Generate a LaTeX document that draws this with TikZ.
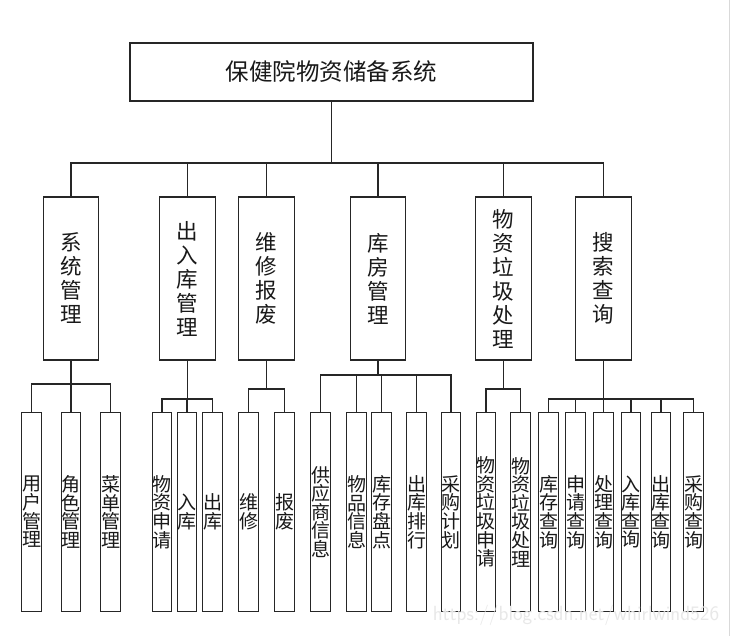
\documentclass[tikz,border=0pt]{standalone}
\usepackage{fontspec}
\newfontfamily\cjk{Noto Sans CJK SC}
\begin{document}
\begin{tikzpicture}[x=1pt,y=-1pt,
  box/.style={draw=black!85, line width=1.1pt, inner sep=0pt, align=center, text=black!90},
  topbox/.style={box, minimum width=403pt, minimum height=58pt, font=\cjk\fontsize{23.5}{24}\selectfont},
  midbox/.style={box, minimum width=55.5pt, minimum height=163pt, font=\cjk\fontsize{21.5}{24}\selectfont},
  leafbox/.style={box, minimum width=19.5pt, minimum height=198.5pt, font=\cjk\fontsize{19}{18.6}\selectfont},
  conn/.style={draw=black!85, line width=1.1pt}]
\useasboundingbox (0,0) rectangle (732,636);
\fill[white] (0,0) rectangle (732,636);
\draw[gray!30, line width=1pt] (729,0) -- (729,636);

% top
\node[topbox] (root) at (331.5,72) {保健院物资储备系统};

% level 2
\node[midbox] (sys) at (71,278.5) {系\\统\\管\\理};
\node[midbox] (io)  at (187.5,278.5) {出\\入\\库\\管\\理};
\node[midbox] (wx)  at (266.5,278.5) {维\\修\\报\\废};
\node[midbox] (kf)  at (378,278.5) {库\\房\\管\\理};
\node[midbox] (lj)  at (503.5,278.5) {物\\资\\垃\\圾\\处\\理};
\node[midbox] (ss)  at (603.5,278.5) {搜\\索\\查\\询};

% level 3
\node[leafbox] (s1) at (31.5,512) {用\\户\\管\\理};
\node[leafbox] (s2) at (71,512) {角\\色\\管\\理};
\node[leafbox] (s3) at (110.5,512) {菜\\单\\管\\理};

\node[leafbox] (i1) at (162,512) {物\\资\\申\\请};
\node[leafbox] (i2) at (187,512) {入\\库};
\node[leafbox] (i3) at (212.5,512) {出\\库};

\node[leafbox] (w1) at (248.5,512) {维\\修};
\node[leafbox] (w2) at (284.5,512) {报\\废};

\node[leafbox] (k1) at (320.5,512) {供\\应\\商\\信\\息};
\node[leafbox] (k2) at (356.5,512) {物\\品\\信\\息};
\node[leafbox] (k3) at (381.5,512) {库\\存\\盘\\点};
\node[leafbox] (k4) at (416.5,512) {出\\库\\排\\行};
\node[leafbox] (k5) at (451,512) {采\\购\\计\\划};

\node[leafbox] (l1) at (486,512) {物\\资\\垃\\圾\\申\\请};
\node[leafbox] (l2) at (520.5,512) {物\\资\\垃\\圾\\处\\理};

\node[leafbox] (q1) at (548.5,512) {库\\存\\查\\询};
\node[leafbox] (q2) at (575.5,512) {申\\请\\查\\询};
\node[leafbox] (q3) at (603.5,512) {处\\理\\查\\询};
\node[leafbox] (q4) at (631,512) {入\\库\\查\\询};
\node[leafbox] (q5) at (661,512) {出\\库\\查\\询};
\node[leafbox] (q6) at (693.5,512) {采\\购\\查\\询};

% bus levels
\coordinate (b0) at (0,163);
\coordinate (bs) at (0,384);
\coordinate (bi) at (0,399);
\coordinate (bw) at (0,389);
\coordinate (bk) at (0,375);
\coordinate (bl) at (0,389);
\coordinate (bq) at (0,399);

\foreach \c in {sys,io,wx,kf,lj,ss}
  \draw[conn] (root.south) -- (root.south |- b0) -| (\c.north);
\foreach \c in {s1,s2,s3}
  \draw[conn] (sys.south) -- (sys.south |- bs) -| (\c.north);
\foreach \c in {i1,i2,i3}
  \draw[conn] (io.south) -- (io.south |- bi) -| (\c.north);
\foreach \c in {w1,w2}
  \draw[conn] (wx.south) -- (wx.south |- bw) -| (\c.north);
\foreach \c in {k1,k2,k3,k4,k5}
  \draw[conn] (kf.south) -- (kf.south |- bk) -| (\c.north);
\foreach \c in {l1,l2}
  \draw[conn] (lj.south) -- (lj.south |- bl) -| (\c.north);
\foreach \c in {q1,q2,q3,q4,q5,q6}
  \draw[conn] (ss.south) -- (ss.south |- bq) -| (\c.north);

% watermark
\node[font=\sffamily\fontsize{20.5}{20.5}\selectfont, text=gray!18, inner sep=0pt] (wm) at (576,615) {https://blog.csdn.net/whirlwind526};
\end{tikzpicture}
\end{document}
